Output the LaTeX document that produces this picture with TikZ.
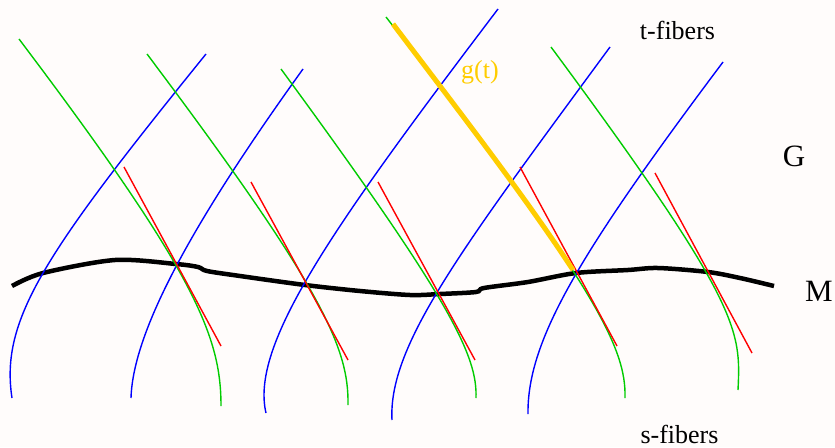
\documentclass[tikz,border=0pt]{standalone}
\usepackage{fontspec}
\setmainfont{Liberation Serif}
\definecolor{bgc}{RGB}{255,252,251}
\definecolor{sblue}{RGB}{0,0,255}
\definecolor{tgreen}{RGB}{0,204,0}
\definecolor{tred}{RGB}{255,0,0}
\definecolor{gold}{RGB}{255,205,0}
\begin{document}
\begin{tikzpicture}[x=1pt,y=-1pt,
  sfiber/.style={draw=sblue,line width=1.4pt},
  tfiber/.style={draw=tgreen,line width=1.4pt},
  tangent/.style={draw=tred,line width=1.4pt},
  base/.style={draw=black,line width=4.5pt},
  path g/.style={draw=gold,line width=5pt},
  lbl/.style={inner sep=0pt,anchor=base,font=\fontsize{26}{30}\selectfont},
  biglbl/.style={inner sep=0pt,anchor=base,font=\fontsize{31}{36}\selectfont}]
\useasboundingbox[fill=bgc] (0,0) rectangle (835,447);
% base manifold M
\draw[base] plot[smooth,tension=0.5] coordinates {(12,286) (43,273) (115,260) (176,264) (198,267) (207,271) (240,276) (305,285) (360,291) (410,295) (440,294) (476,292) (484,288) (528,282) (576,273) (628,270) (658,268) (708,272) (740,278) (774,286)};
% s-fibers (blue)
\draw[sfiber] (12,398) .. controls (0,320) and (44,254) .. (206,54);
\draw[sfiber] (131,398) .. controls (133,330) and (195,219) .. (303,69);
\draw[sfiber] (266,413) .. controls (250,345) and (331,229) .. (498,9);
\draw[sfiber] (392,420) .. controls (388,345) and (463,247) .. (610,47);
\draw[sfiber] (528,414) .. controls (527,340) and (580.5,252) .. (723,62);
% t-fibers (green)
\draw[tfiber] (19,39) .. controls (195,272) and (221,336) .. (221,406);
\draw[tfiber] (147,54) .. controls (322,287) and (349,347.6) .. (348,405);
\draw[tfiber] (281,69) .. controls (452,302) and (477.4,356) .. (476,398);
\draw[tfiber] (386,17) .. controls (595,285) and (626.4,347.6) .. (625,398);
\draw[tfiber] (551,47) .. controls (742,305) and (740.8,330.5) .. (738,390);
% tangent lines (red)
\coordinate (r1a) at (124,167); \coordinate (r1b) at (221,346);
\coordinate (r2a) at (251,182); \coordinate (r2b) at (348,360);
\coordinate (r3a) at (378,182); \coordinate (r3b) at (475,360);
\coordinate (r4a) at (520,167); \coordinate (r4b) at (617,346);
\coordinate (r5a) at (655,173); \coordinate (r5b) at (752,353);
\draw[tangent] (r1a) -- (r1b);
\draw[tangent] (r2a) -- (r2b);
\draw[tangent] (r3a) -- (r3b);
\draw[tangent] (r4a) -- (r4b);
\draw[tangent] (r5a) -- (r5b);
% g(t)
\draw[path g] (393,24) .. controls (455,106) and (524,195) .. (573,270);
% labels
\node[lbl] (tfib) at (677.5,39.5) {t-fibers};
\node[lbl] (sfib) at (679.5,443) {s-fibers};
\node[lbl,text=gold] (gt) at (480,78) {g(t)};
\node[biglbl] (G) at (794,166.5) {G};
\node[biglbl] (M) at (819,301) {M};
\end{tikzpicture}
\end{document}
